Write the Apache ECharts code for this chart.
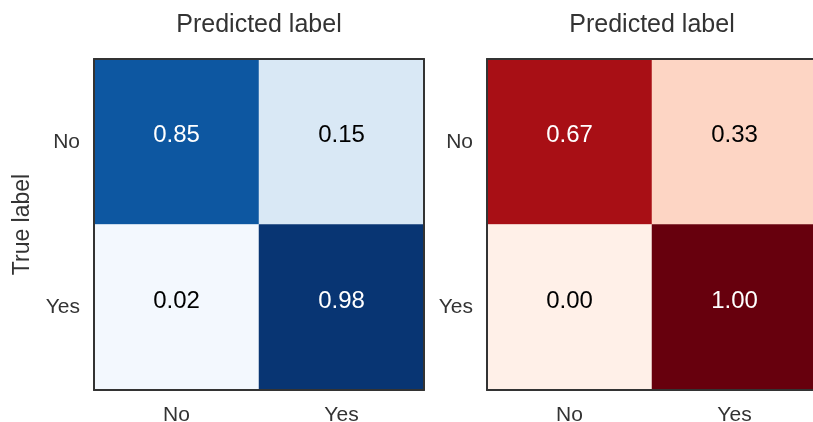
<!DOCTYPE html>
<html>
<head>
<meta charset="utf-8">
<script src="https://cdn.jsdelivr.net/npm/echarts@6/dist/echarts.min.js"></script>
<style>html,body{margin:0;padding:0;background:#fff}#c{width:813px;height:422px}</style>
</head>
<body>
<div id="c"></div>
<script>
var labels = ['No', 'Yes'];
var leftValues = [[0.85, 0.15], [0.02, 0.98]];   // rows: true label, cols: predicted
var rightValues = [[0.67, 0.33], [0.00, 1.00]];
var xTitle = 'Predicted label';
var yTitle = 'True label';

var blues = ['#f7fbff','#deebf7','#c6dbef','#9ecae1','#6baed6','#4292c6','#2171b5','#08519c','#08306b'];
var redsRamp = ['#fff0e8','#fdd5c4','#a90f15','#67000d'];

function toData(m) {
  var out = [];
  for (var r = 0; r < m.length; r++) {
    for (var c = 0; c < m[r].length; c++) {
      var v = m[r][c];
      out.push({value: [c, r, v], label: {color: v > 0.5 ? '#ffffff' : '#000000'}});
    }
  }
  return out;
}

var FONT = 'Liberation Sans, Arial, sans-serif';
var LINE = {color: '#333', width: 2};
var grids = [
  {left: 94, top: 59, width: 330, height: 331, outerBoundsMode: 'none', containLabel: false},
  {left: 487, top: 59, width: 330, height: 331, outerBoundsMode: 'none', containLabel: false}
];
var xAxes = [], yAxes = [];
[0, 1].forEach(function (i) {
  xAxes.push({
    gridIndex: i, type: 'category', data: labels, position: 'bottom', z: 10,
    axisLine: {show: true, lineStyle: LINE},
    axisTick: {show: false}, splitLine: {show: false},
    axisLabel: {color: '#333', fontSize: 21, fontFamily: FONT, margin: 15}
  });
  xAxes.push({
    gridIndex: i, type: 'category', data: labels, position: 'top', z: 10,
    name: xTitle, nameLocation: 'middle', nameGap: 21,
    nameTextStyle: {color: '#333', fontSize: 25, fontFamily: FONT},
    axisLine: {show: true, lineStyle: LINE},
    axisTick: {show: false}, axisLabel: {show: false}, splitLine: {show: false}
  });
  yAxes.push({
    gridIndex: i, type: 'category', data: labels, inverse: true, position: 'left', z: 10,
    name: i === 0 ? yTitle : '', nameLocation: 'middle', nameGap: 60,
    nameTextStyle: {color: '#333', fontSize: 23, fontFamily: FONT},
    axisLine: {show: true, lineStyle: LINE},
    axisTick: {show: false}, splitLine: {show: false},
    axisLabel: {color: '#333', fontSize: 21, fontFamily: FONT, margin: 14}
  });
  yAxes.push({
    gridIndex: i, type: 'category', data: labels, inverse: true, position: 'right', z: 10,
    axisLine: {show: true, lineStyle: LINE},
    axisTick: {show: false}, axisLabel: {show: false}, splitLine: {show: false}
  });
});

var chart = echarts.init(document.getElementById('c'));
chart.setOption({
  animation: false,
  backgroundColor: '#fff',
  grid: grids,
  xAxis: xAxes,
  yAxis: yAxes,
  visualMap: [
    {type: 'continuous', show: false, seriesIndex: 0, dimension: 2, min: 0, max: 1, inRange: {color: blues}},
    {type: 'continuous', show: false, seriesIndex: 1, dimension: 2, min: 0, max: 1, inRange: {color: redsRamp}}
  ],
  series: [
    {type: 'heatmap', xAxisIndex: 0, yAxisIndex: 0, z: 2, data: toData(leftValues),
     label: {show: true, fontSize: 24, fontFamily: FONT, offset: [0, -6], formatter: function (p) { return p.value[2].toFixed(2); }}},
    {type: 'heatmap', xAxisIndex: 2, yAxisIndex: 2, z: 2, data: toData(rightValues),
     label: {show: true, fontSize: 24, fontFamily: FONT, offset: [0, -6], formatter: function (p) { return p.value[2].toFixed(2); }}}
  ]
});
</script>
</body>
</html>
